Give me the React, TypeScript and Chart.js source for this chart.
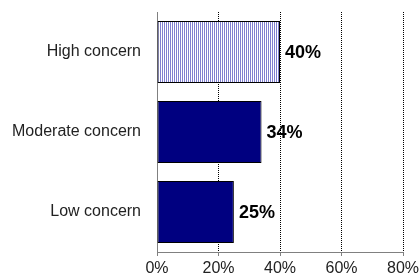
import React, { useEffect, useRef } from "react";
import { Chart, registerables } from "chart.js";

Chart.register(...registerables);

const categories = ["High concern", "Moderate concern", "Low concern"];
const values = [40, 34, 25];
const xTicks = [0, 20, 40, 60, 80];

function makeStripes(): CanvasPattern | string {
  const c = document.createElement("canvas");
  c.width = 2;
  c.height = 1;
  const g = c.getContext("2d");
  if (!g) return "#7777cc";
  g.fillStyle = "#ffffff";
  g.fillRect(0, 0, 2, 1);
  g.fillStyle = "#7f7fd0";
  g.fillRect(0, 0, 1, 1);
  const p = g.createPattern(c, "repeat");
  return p || "#7777cc";
}

const valueLabels = {
  id: "valueLabels",
  afterDatasetsDraw(chart: any) {
    const ctx = chart.ctx;
    const meta = chart.getDatasetMeta(0);
    ctx.save();
    ctx.font = "bold 18px 'Liberation Sans', Arial, sans-serif";
    ctx.fillStyle = "#000000";
    ctx.textAlign = "left";
    ctx.textBaseline = "middle";
    meta.data.forEach((el: any, i: number) => {
      ctx.fillText(values[i] + "%", el.x + 5, el.y + 1);
    });
    ctx.restore();
  },
};

export default function App() {
  const ref = useRef<HTMLCanvasElement>(null);
  useEffect(() => {
    document.body.style.margin = "0";
    if (!ref.current) return;
    const stripes = makeStripes();
    const chart = new Chart(ref.current, {
      type: "bar",
      data: {
        labels: categories,
        datasets: [
          {
            data: values,
            backgroundColor: [stripes, "#000080", "#000080"] as any,
            borderColor: "#000000",
            borderWidth: 1,
            borderSkipped: false,
            barPercentage: 0.775,
            categoryPercentage: 1,
          },
        ],
      },
      options: {
        indexAxis: "y",
        responsive: false,
        animation: false,
        layout: { padding: { top: 12, right: 17, left: 0, bottom: 0 } },
        plugins: { legend: { display: false }, tooltip: { enabled: false } },
        scales: {
          x: {
            min: 0,
            max: 80,
            afterBuildTicks: (axis: any) => {
              axis.ticks = xTicks.map((v) => ({ value: v }));
            },
            afterFit: (axis: any) => {
              axis.height = 28;
              axis.paddingLeft = 0;
              axis.paddingRight = 0;
              axis.paddingTop = 0;
              axis.paddingBottom = 0;
            },
            grid: {
              color: (c: any) => (c.index === 0 ? "rgba(0,0,0,0)" : "#000000"),
              tickColor: "#808080",
              tickBorderDash: [],
              tickLength: 4,
              drawTicks: true,
            } as any,
            border: { display: true, color: "#808080", width: 1, dash: [1, 1] },
            ticks: {
              padding: 3,
              color: "#222222",
              font: { family: "'Liberation Sans', Arial, sans-serif", size: 16 },
              callback: (v: any) => v + "%",
            },
          },
          y: {
            afterFit: (axis: any) => {
              axis.width = 157;
              axis.paddingLeft = 0;
              axis.paddingRight = 0;
              axis.paddingTop = 0;
              axis.paddingBottom = 0;
            },
            grid: { display: false, drawTicks: false },
            border: { display: true, color: "#808080", width: 1 },
            ticks: {
              padding: 16,
              color: "#222222",
              font: { family: "'Liberation Sans', Arial, sans-serif", size: 16 },
            },
          },
        },
      },
      plugins: [valueLabels],
    });
    return () => chart.destroy();
  }, []);
  return (
    <div style={{ position: "absolute", left: 0, top: 0, width: 420, height: 280 }}>
      <canvas ref={ref} width={420} height={280} style={{ width: 420, height: 280 }} />
    </div>
  );
}
